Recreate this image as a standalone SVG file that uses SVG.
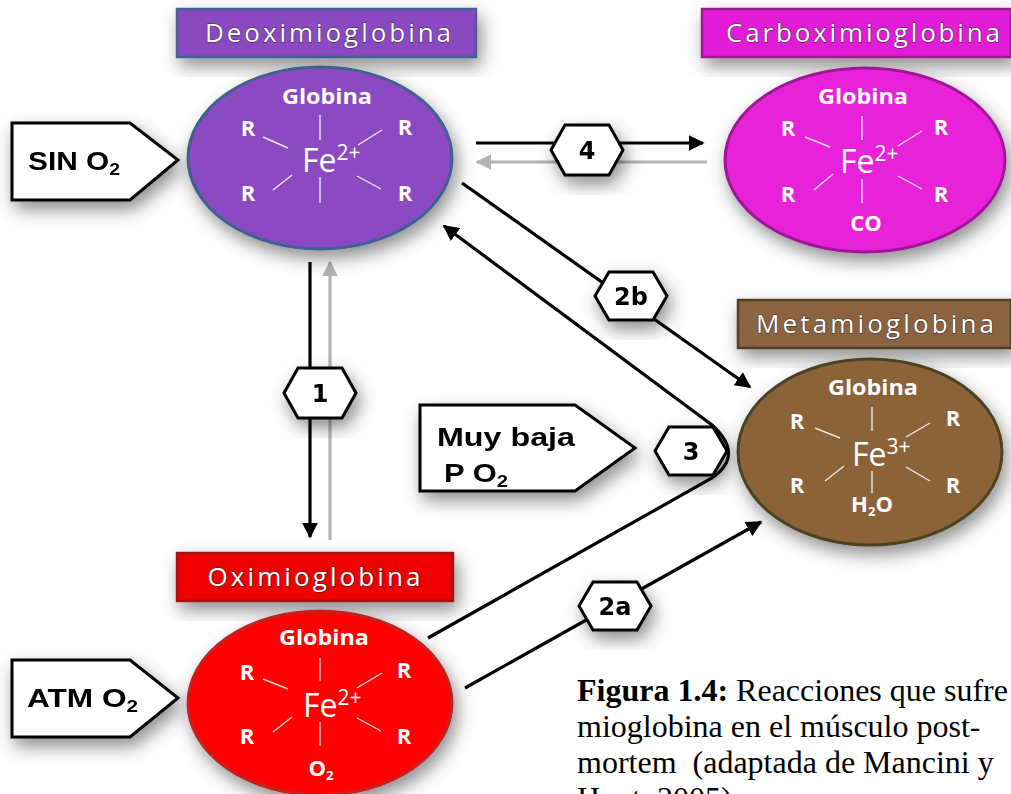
<svg xmlns="http://www.w3.org/2000/svg" width="1011" height="794" viewBox="0 0 1011 794">
<defs>
<filter id="sh" x="-30%" y="-30%" width="160%" height="170%">
<feDropShadow dx="4" dy="8" stdDeviation="9" flood-color="#000" flood-opacity="0.45"/>
</filter>
<marker id="ab" viewBox="0 0 10 10" refX="9" refY="5" markerWidth="5" markerHeight="5" orient="auto" markerUnits="strokeWidth">
<path d="M0,0 L10,5 L0,10 z" fill="#000"/>
</marker>
<marker id="ag" viewBox="0 0 10 10" refX="9" refY="5" markerWidth="5" markerHeight="5" orient="auto" markerUnits="strokeWidth">
<path d="M0,0 L10,5 L0,10 z" fill="#b4b4b4"/>
</marker>
<style>
.title{font-family:"Open Sans",Lato,sans-serif;font-size:26px;fill:#fff;stroke:#2a2a2a;stroke-width:0.9;paint-order:stroke;text-anchor:middle}
.glob{font-family:"Open Sans",Lato,sans-serif;font-weight:bold;font-size:22px;fill:#fff;text-anchor:middle}
.r{font-family:"Open Sans",Lato,sans-serif;font-weight:bold;font-size:22px;fill:#fff;text-anchor:middle}
.fe{font-family:"Open Sans",Lato,sans-serif;font-size:32px;fill:#fff}
.sup{font-size:21px}
.bond{stroke:#fff;stroke-width:1.4;opacity:0.85}
.pent{fill:#fff;stroke:#000;stroke-width:3}
.ptxt{font-family:"Liberation Sans",Arial,sans-serif;font-weight:bold;font-size:26px;fill:#000}
.hex{fill:#fff;stroke:#000;stroke-width:3}
.htxt{font-family:"DejaVu Sans",Verdana,sans-serif;font-weight:bold;font-size:24px;fill:#000;text-anchor:middle}
.cb{stroke:#000;stroke-width:3.2;fill:none}
.cg{stroke:#b4b4b4;stroke-width:3.2;fill:none}
.cap{font-family:"Liberation Serif","Times New Roman",serif;font-size:32px;fill:#000}
</style>
</defs>
<rect width="1011" height="794" fill="#fff"/>

<g id="connectors">
<line class="cb" x1="310" y1="262" x2="310" y2="537" marker-end="url(#ab)"/>
<line class="cg" x1="330" y1="540" x2="330" y2="262" marker-end="url(#ag)"/>
<line class="cb" x1="476" y1="143" x2="703" y2="143" marker-end="url(#ab)"/>
<line class="cg" x1="707" y1="162" x2="477" y2="162" marker-end="url(#ag)"/>
<line class="cb" x1="462" y1="183" x2="750" y2="387" marker-end="url(#ab)"/>
<path class="cb" d="M428,638 L712,478 Q745,455 712,425 L444,226" marker-end="url(#ab)"/>
<line class="cb" x1="465" y1="688" x2="761" y2="522" marker-end="url(#ab)"/>
</g>

<g id="hex1" filter="url(#sh)"><polygon class="hex" points="284,393 298,368 342,368 356,393 342,418 298,418"/><text class="htxt" x="320" y="402">1</text></g>
<g id="hex4" filter="url(#sh)"><polygon class="hex" points="551,150 565,125 609,125 623,150 609,175 565,175"/><text class="htxt" x="587" y="159">4</text></g>
<g id="hex2b" filter="url(#sh)"><polygon class="hex" points="595,296 609,272 653,272 667,296 653,320 609,320"/><text class="htxt" x="631" y="305">2b</text></g>
<g id="hex3" filter="url(#sh)"><polygon class="hex" points="655,451 669,427 713,427 727,451 713,475 669,475"/><text class="htxt" x="691" y="460">3</text></g>
<g id="hex2a" filter="url(#sh)"><polygon class="hex" points="579,606 593,582 637,582 651,606 637,630 593,630"/><text class="htxt" x="615" y="615">2a</text></g>

<g id="sin-o2" filter="url(#sh)">
<polygon class="pent" points="12,123 130,123 178,160 130,200 12,200"/>
<text class="ptxt" x="28" y="170" textLength="92" lengthAdjust="spacingAndGlyphs">SIN O<tspan font-size="17" dy="5">2</tspan></text>
</g>
<g id="atm-o2" filter="url(#sh)">
<polygon class="pent" points="12,660 130,660 178,698 130,737 12,737"/>
<text class="ptxt" x="27" y="707" textLength="111" lengthAdjust="spacingAndGlyphs">ATM O<tspan font-size="17" dy="5">2</tspan></text>
</g>
<g id="muy-baja" filter="url(#sh)">
<polygon class="pent" points="420,405 575,405 635,448 575,491 420,491"/>
<text class="ptxt" x="437" y="446" textLength="138" lengthAdjust="spacingAndGlyphs">Muy baja</text>
<text class="ptxt" x="444" y="482" textLength="64" lengthAdjust="spacingAndGlyphs">P O<tspan font-size="17" dy="5">2</tspan></text>
</g>

<g id="deoximioglobina">
<rect x="177" y="9" width="299" height="48" fill="#8a48c0" stroke="#3f6393" stroke-width="2.5" filter="url(#sh)"/>
<text class="title" x="328" y="42" textLength="246" lengthAdjust="spacing">Deoximioglobina</text>
<ellipse cx="320" cy="158" rx="132" ry="91" fill="#8b49c2" stroke="#3d6291" stroke-width="3" filter="url(#sh)"/>
<text class="glob" x="327" y="104" textLength="90" lengthAdjust="spacingAndGlyphs">Globina</text>
<text class="r" x="248" y="136">R</text><text class="r" x="405" y="135">R</text>
<text class="r" x="248" y="201">R</text><text class="r" x="405" y="201">R</text>
<text class="fe" x="302" y="172">Fe<tspan class="sup" dy="-12">2+</tspan></text>
<line class="bond" x1="320" y1="115" x2="320" y2="140"/><line class="bond" x1="320" y1="177" x2="320" y2="203"/>
<line class="bond" x1="263" y1="137" x2="288" y2="148"/><line class="bond" x1="358" y1="145" x2="382" y2="130"/>
<line class="bond" x1="273" y1="190" x2="292" y2="175"/><line class="bond" x1="357" y1="176" x2="381" y2="189"/>
</g>

<g id="carboximioglobina">
<rect x="702" y="9" width="309" height="48" fill="#e21fd6" stroke="#9a1a8c" stroke-width="2.5" filter="url(#sh)"/>
<text class="title" x="863" y="42" textLength="274" lengthAdjust="spacing">Carboximioglobina</text>
<ellipse cx="865" cy="160" rx="140" ry="92" fill="#e822d8" stroke="#a0189a" stroke-width="3" filter="url(#sh)"/>
<text class="glob" x="863" y="104" textLength="90" lengthAdjust="spacingAndGlyphs">Globina</text>
<text class="r" x="788" y="136">R</text><text class="r" x="941" y="135">R</text>
<text class="r" x="788" y="202">R</text><text class="r" x="941" y="202">R</text>
<text class="fe" x="840" y="173">Fe<tspan class="sup" dy="-12">2+</tspan></text>
<line class="bond" x1="862" y1="116" x2="862" y2="140"/><line class="bond" x1="862" y1="179" x2="862" y2="203"/>
<line class="bond" x1="805" y1="137" x2="830" y2="147"/><line class="bond" x1="898" y1="146" x2="922" y2="131"/>
<line class="bond" x1="814" y1="190" x2="833" y2="174"/><line class="bond" x1="898" y1="176" x2="922" y2="189"/>
<text class="glob" x="866" y="231">CO</text>
</g>

<g id="metamioglobina">
<rect x="738" y="300" width="273" height="48" fill="#8b6340" stroke="#4c4226" stroke-width="2.5" filter="url(#sh)"/>
<text class="title" x="875" y="333" textLength="238" lengthAdjust="spacing">Metamioglobina</text>
<ellipse cx="870" cy="452" rx="132" ry="93" fill="#8c6239" stroke="#4b4322" stroke-width="3" filter="url(#sh)"/>
<text class="glob" x="873" y="395" font-weight="normal" textLength="90" lengthAdjust="spacingAndGlyphs">Globina</text>
<text class="r" x="797" y="429" font-weight="normal">R</text><text class="r" x="953" y="426" font-weight="normal">R</text>
<text class="r" x="797" y="493" font-weight="normal">R</text><text class="r" x="953" y="493" font-weight="normal">R</text>
<text class="fe" x="852" y="466">Fe<tspan class="sup" dy="-12">3+</tspan></text>
<line class="bond" x1="872" y1="407" x2="872" y2="431"/><line class="bond" x1="872" y1="471" x2="872" y2="493"/>
<line class="bond" x1="815" y1="428" x2="840" y2="438"/><line class="bond" x1="906" y1="437" x2="930" y2="423"/>
<line class="bond" x1="825" y1="481" x2="844" y2="466"/><line class="bond" x1="906" y1="467" x2="930" y2="481"/>
<text class="glob" x="872" y="512" font-weight="normal">H<tspan font-size="13" dy="4">2</tspan><tspan dy="-4">O</tspan></text>
</g>

<g id="oximioglobina">
<rect x="177" y="553" width="276" height="48" fill="#ee0000" stroke="#a01818" stroke-width="2.5" filter="url(#sh)"/>
<text class="title" x="314" y="586" textLength="213" lengthAdjust="spacing">Oximioglobina</text>
<ellipse cx="320" cy="703" rx="132" ry="92" fill="#ff0000" stroke="#c02424" stroke-width="3" filter="url(#sh)"/>
<text class="glob" x="324" y="645" textLength="90" lengthAdjust="spacingAndGlyphs">Globina</text>
<text class="r" x="247" y="680">R</text><text class="r" x="404" y="678">R</text>
<text class="r" x="247" y="744">R</text><text class="r" x="404" y="744">R</text>
<text class="fe" x="303" y="717">Fe<tspan class="sup" dy="-12">2+</tspan></text>
<line class="bond" x1="320" y1="658" x2="320" y2="681"/><line class="bond" x1="320" y1="722" x2="320" y2="746"/>
<line class="bond" x1="263" y1="679" x2="288" y2="689"/><line class="bond" x1="357" y1="688" x2="382" y2="673"/>
<line class="bond" x1="273" y1="732" x2="292" y2="717"/><line class="bond" x1="357" y1="718" x2="381" y2="731"/>
<text class="glob" x="321" y="776">O<tspan font-size="13" dy="4">2</tspan></text>
</g>

<g id="caption">
<text class="cap" x="577" y="701"><tspan font-weight="bold">Figura 1.4:</tspan> Reacciones que sufre</text>
<text class="cap" x="577" y="737">mioglobina en el músculo post-</text>
<text class="cap" x="577" y="773" xml:space="preserve">mortem  (adaptada de Mancini y</text>
<text class="cap" x="577" y="809">Hunt, 2005).</text>
</g>
</svg>
